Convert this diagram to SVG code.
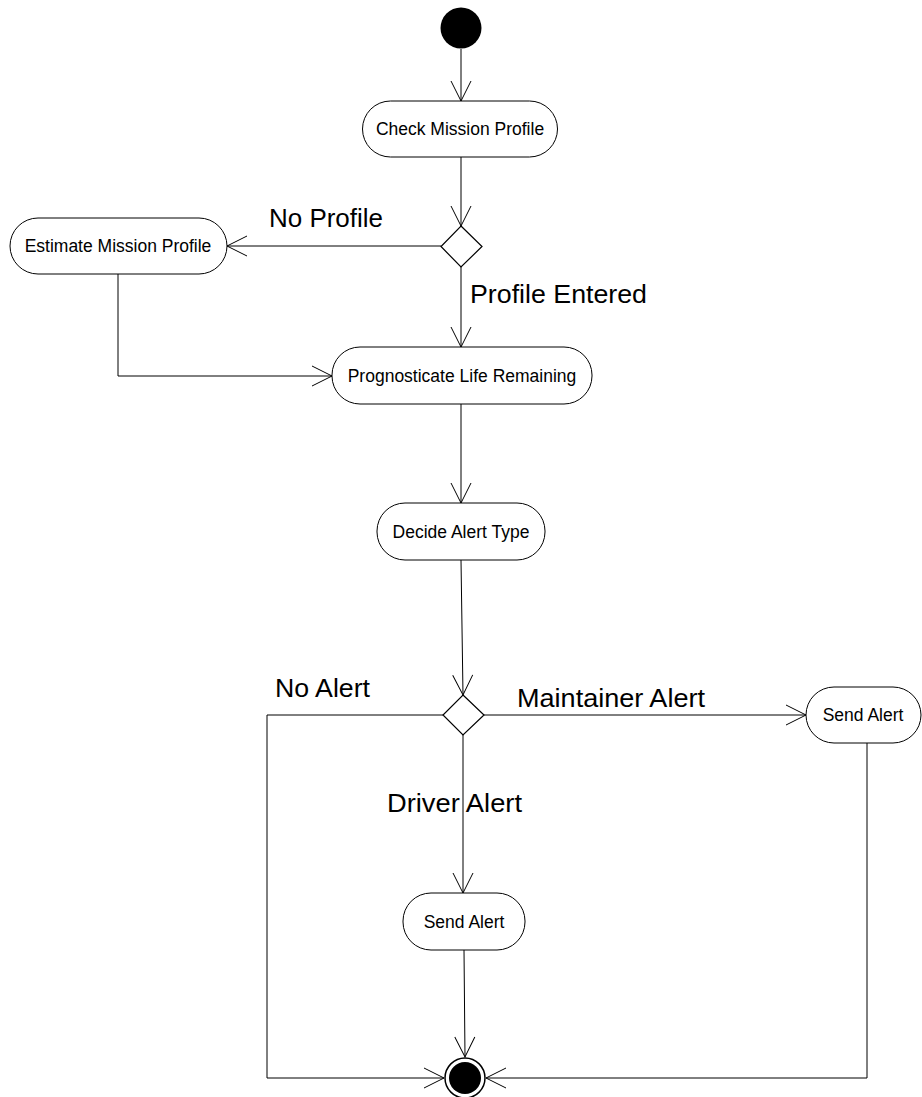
<svg xmlns="http://www.w3.org/2000/svg" width="922" height="1097" viewBox="0 0 922 1097">
  <style>
    .act { fill: #ffffff; stroke: #000000; stroke-width: 1; }
    .dec { fill: #ffffff; stroke: #000000; stroke-width: 1.2; }
    .flow { fill: none; stroke: #000000; stroke-width: 1; }
    .nlabel { font-family: "Liberation Sans", Arial, sans-serif; font-size: 17.5px; fill: #000000; text-anchor: middle; }
    .glabel { font-family: "Liberation Sans", Arial, sans-serif; font-size: 26px; fill: #000000; }
  </style>
  <defs>
    <marker id="open" markerUnits="userSpaceOnUse" markerWidth="24" markerHeight="24" viewBox="-22 -12 24 24" refX="0" refY="0" orient="auto">
      <path d="M-20,-10 L0,0 L-20,10" fill="none" stroke="#000000" stroke-width="1"/>
    </marker>
  </defs>

  <!-- control flows -->
  <g id="connectors">
    <line class="flow" x1="461" y1="49" x2="461" y2="101" marker-end="url(#open)"/>
    <line class="flow" x1="461" y1="157" x2="461" y2="226" marker-end="url(#open)"/>
    <line class="flow" x1="441" y1="246" x2="227" y2="246" marker-end="url(#open)"/>
    <line class="flow" x1="461" y1="267" x2="461" y2="347" marker-end="url(#open)"/>
    <polyline class="flow" points="118,274 118,376 332,376" marker-end="url(#open)"/>
    <line class="flow" x1="461" y1="404" x2="461" y2="503" marker-end="url(#open)"/>
    <line class="flow" x1="461" y1="560" x2="463" y2="695" marker-end="url(#open)"/>
    <line class="flow" x1="484" y1="715" x2="806" y2="715" marker-end="url(#open)"/>
    <line class="flow" x1="463" y1="735" x2="463" y2="893" marker-end="url(#open)"/>
    <polyline class="flow" points="443,715 267,715 267,1078 444,1078" marker-end="url(#open)"/>
    <line class="flow" x1="464" y1="950" x2="465" y2="1057" marker-end="url(#open)"/>
    <polyline class="flow" points="867,743 867,1078 486,1078" marker-end="url(#open)"/>
    <text class="glabel" x="269" y="227" textLength="114" lengthAdjust="spacingAndGlyphs">No Profile</text>
    <text class="glabel" x="470" y="303" textLength="177" lengthAdjust="spacingAndGlyphs">Profile Entered</text>
    <text class="glabel" x="275" y="697" textLength="95" lengthAdjust="spacingAndGlyphs">No Alert</text>
    <text class="glabel" x="517" y="707" textLength="188" lengthAdjust="spacingAndGlyphs">Maintainer Alert</text>
    <text class="glabel" x="387" y="812" textLength="135" lengthAdjust="spacingAndGlyphs">Driver Alert</text>
  </g>

  <g id="start">
    <circle cx="461" cy="28" r="20.5" fill="#000000"/>
  </g>

  <g id="check-mission-profile">
    <rect class="act" x="362.5" y="101" width="195" height="56" rx="28" ry="28"/>
    <text class="nlabel" x="460" y="135">Check Mission Profile</text>
  </g>

  <g id="profile-decision">
    <polygon class="dec" points="461,226 482,246.5 461,267 441,246.5"/>
  </g>

  <g id="estimate-mission-profile">
    <rect class="act" x="10" y="218" width="217" height="56" rx="28" ry="28"/>
    <text class="nlabel" x="118" y="252">Estimate Mission Profile</text>
  </g>

  <g id="prognosticate-life-remaining">
    <rect class="act" x="332" y="347" width="260" height="57" rx="28" ry="28"/>
    <text class="nlabel" x="462" y="382">Prognosticate Life Remaining</text>
  </g>

  <g id="decide-alert-type">
    <rect class="act" x="377" y="503" width="168" height="57" rx="28" ry="28"/>
    <text class="nlabel" x="461" y="538">Decide Alert Type</text>
  </g>

  <g id="alert-decision">
    <polygon class="dec" points="463,695 484,715 463,735 443,715"/>
  </g>

  <g id="send-alert-maintainer">
    <rect class="act" x="806" y="687" width="115" height="56" rx="28" ry="28"/>
    <text class="nlabel" x="863" y="721">Send Alert</text>
  </g>

  <g id="send-alert-driver">
    <rect class="act" x="403" y="893" width="122" height="57" rx="28" ry="28"/>
    <text class="nlabel" x="464" y="928">Send Alert</text>
  </g>

  <g id="final">
    <circle cx="465" cy="1078" r="20" fill="#ffffff" stroke="#000000" stroke-width="1.5"/>
    <circle cx="465" cy="1078" r="16" fill="#000000"/>
  </g>
</svg>
